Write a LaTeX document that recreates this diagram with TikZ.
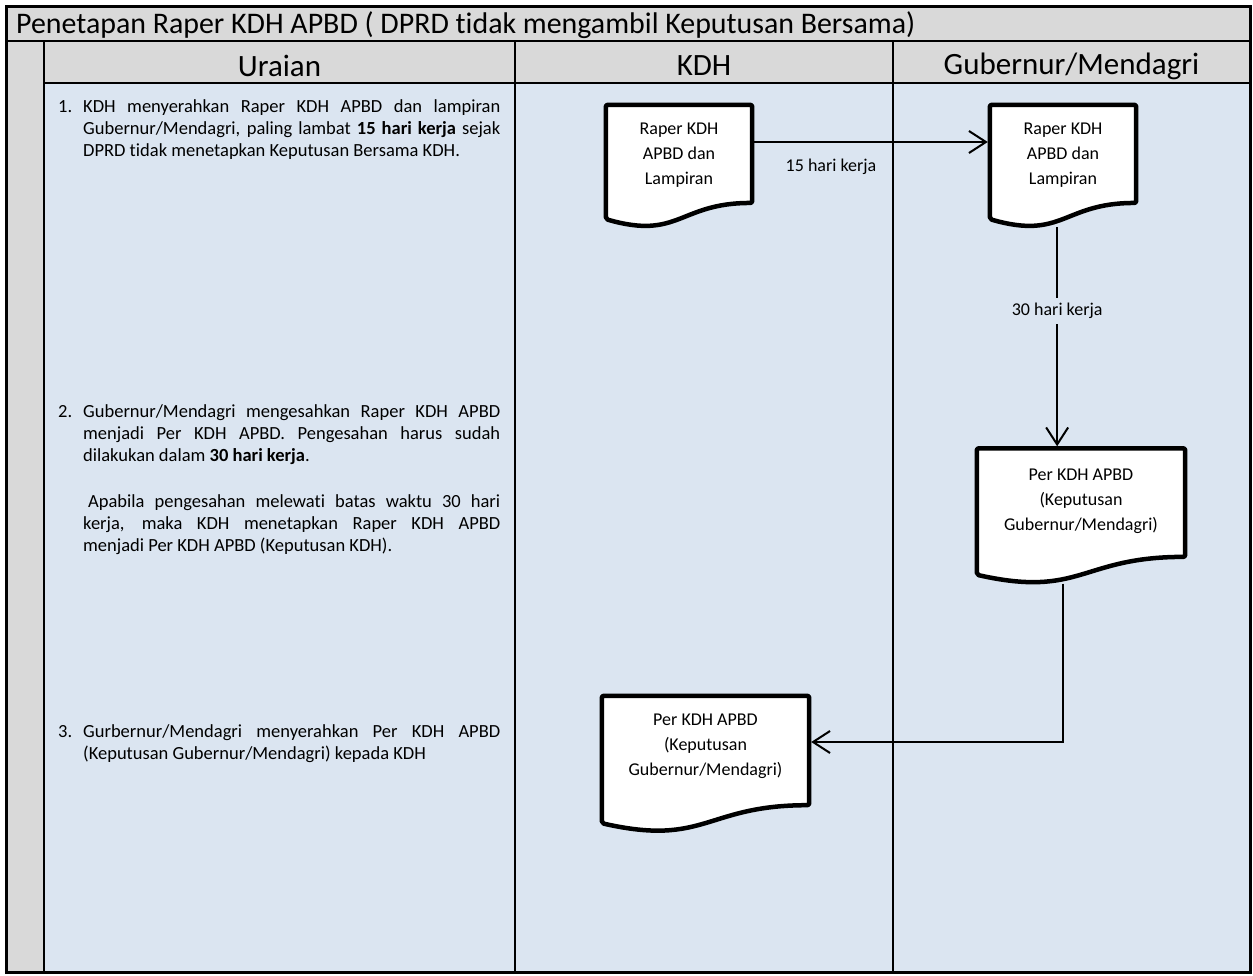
\documentclass[tikz,border=0pt]{standalone}
\usepackage{fontspec}
\setmainfont{Carlito}[Ligatures=NoCommon]
\usetikzlibrary{arrows.meta,calc}

\pgfdeclarelayer{lanes}
\pgfdeclarelayer{shapes}
\pgfsetlayers{lanes,shapes,main}

\definecolor{lanefill}{RGB}{219,229,241}
\definecolor{headfill}{RGB}{217,217,217}

\tikzset{
  gridline/.style={line width=2pt},
  outerline/.style={line width=3pt},
  titletext/.style={anchor=west, inner sep=0pt, font=\fontsize{29.9}{35}\selectfont},
  headtext/.style={inner sep=0pt, font=\fontsize{31}{37}\selectfont},
  uraian/.style={anchor=north west, inner sep=0pt, text width=442pt, align=justify,
                 font=\fontsize{18.5}{22}\selectfont},
  docbox/.style={draw=none, inner sep=0pt},
  docline/.style={line width=4.5pt, fill=white, rounded corners=2pt, line join=round},
  doctext/.style={inner sep=0pt, align=center, font=\fontsize{18}{25}\selectfont},
  lbl/.style={inner sep=5pt, font=\fontsize{18}{22}\selectfont},
  flow/.style={line width=2pt, -{Straight Barb[length=17pt,width=22pt]}, shorten >=2pt},
}

% document symbol (flowchart "document" outline) around a named node
\newcommand\docoutline[1]{%
  \draw[docline] (#1.north west) -- (#1.north east)
    -- ($(#1.north east)!0.802!(#1.south east)$)
    .. controls ($(#1.north)!0.802!(#1.south)$) and ($(#1.north)!1.107!(#1.south)$)
    .. ($(#1.north west)!0.934!(#1.south west)$) -- cycle;}

\begin{document}
\begin{tikzpicture}[x=1pt,y=-1pt]
\useasboundingbox (0,0) rectangle (1253,976);

% ---- swimlane table ----
\begin{pgfonlayer}{lanes}
  \fill[headfill] (6,7) rectangle (1250,83);
  \fill[headfill] (6,83) rectangle (44,972);
  \fill[lanefill] (44,83) rectangle (1250,972);
  \draw[gridline] (6,41) -- (1250,41);
  \draw[gridline] (44,83) -- (1250,83);
  \draw[gridline] (44,41) -- (44,972);
  \draw[gridline] (515,41) -- (515,972);
  \draw[gridline] (893,41) -- (893,972);
  \draw[outerline] (6,7) rectangle (1250,972);
\end{pgfonlayer}

\node[titletext] (judul) at (16,25) {Penetapan Raper KDH APBD ( DPRD tidak mengambil Keputusan Bersama)};
\node[headtext] (hUraian) at (279.5,66) {Uraian};
\node[headtext] (hKdh) at (704,66) {KDH};
\node[headtext] (hGub) at (1071.5,66) {Gubernur/Mendagri};

% ---- description column ----
\node[uraian] (uraianSatu) at (58,99) {\parindent=0pt
  \hangindent=25pt\hangafter=1\makebox[25pt][l]{1.}KDH menyerahkan Raper KDH APBD dan lampiran\linebreak
  Gubernur/Mendagri, paling lambat \textbf{15 hari kerja} sejak\linebreak
  DPRD tidak menetapkan Keputusan Bersama KDH.\par};

\node[uraian] (uraianDua) at (58,404) {\parindent=0pt
  \hangindent=25pt\hangafter=1\makebox[25pt][l]{2.}Gubernur/Mendagri mengesahkan Raper KDH APBD\linebreak
  menjadi Per KDH APBD. Pengesahan harus sudah\linebreak
  dilakukan dalam \textbf{30 hari kerja}.\par
  \vspace{24pt}\leftskip=25pt
  \hspace*{5pt}Apabila pengesahan melewati batas waktu 30 hari\linebreak
  kerja, maka KDH menetapkan Raper KDH APBD\linebreak
  menjadi Per KDH APBD (Keputusan KDH).\par};

\node[uraian] (uraianTiga) at (58,724) {\parindent=0pt
  \hangindent=25pt\hangafter=1\makebox[25pt][l]{3.}Gurbernur/Mendagri menyerahkan Per KDH APBD\linebreak
  (Keputusan Gubernur/Mendagri) kepada KDH\par};

% ---- document symbols ----
\node[docbox, minimum width=146pt, minimum height=122pt] (raperKdh) at (679,166) {};
\node[docbox, minimum width=146pt, minimum height=122pt] (raperGub) at (1063,166) {};
\node[docbox, minimum width=208pt, minimum height=135pt] (perGub) at (1081,516) {};
\node[docbox, minimum width=207pt, minimum height=136pt] (perKdh) at (705.5,764) {};

\begin{pgfonlayer}{shapes}
  \docoutline{raperKdh}
  \docoutline{raperGub}
  \docoutline{perGub}
  \docoutline{perKdh}
\end{pgfonlayer}

\node[doctext] (raperKdhTxt) at ($(raperKdh.center)+(0,-11)$) {Raper KDH\\APBD dan\\Lampiran};
\node[doctext] (raperGubTxt) at ($(raperGub.center)+(0,-11)$) {Raper KDH\\APBD dan\\Lampiran};
\node[doctext] (perGubTxt) at ($(perGub.center)+(0,-15)$) {Per KDH APBD\\(Keputusan\\Gubernur/Mendagri)};
\node[doctext] (perKdhTxt) at ($(perKdh.center)+(0,-18)$) {Per KDH APBD\\(Keputusan\\Gubernur/Mendagri)};

% ---- connectors ----
\coordinate (kdhOut) at ($(raperKdh.east)+(0,-24)$);
\coordinate (gubIn) at ($(raperGub.west)+(0,-24)$);
\draw[flow] (kdhOut) -- (gubIn);
\node[lbl] (lbl15) at (831,167) {15 hari kerja};

\coordinate (gubOut) at ($(raperGub.south west)!0.46!(raperGub.south east)$);
\coordinate (perGubIn) at (gubOut |- perGub.north);
\draw[flow] (gubOut) -- (perGubIn)
  node[lbl, fill=lanefill, pos=0.38] (lbl30) {30 hari kerja};

\coordinate (perGubOut) at ($(perGub.south west)!0.415!(perGub.south east)$);
\coordinate (perKdhIn) at ($(perKdh.east)+(0,-22)$);
\draw[flow] (perGubOut) |- (perKdhIn);

\end{tikzpicture}
\end{document}
